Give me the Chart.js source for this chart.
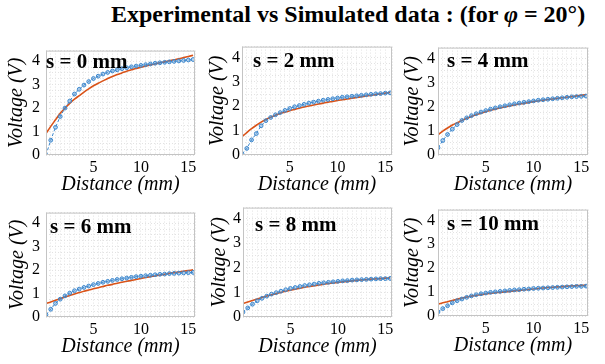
<!DOCTYPE html>
<html>
<head>
<meta charset="utf-8">
<script src="https://cdn.jsdelivr.net/npm/chart.js@4.4.1/dist/chart.umd.min.js"></script>
<style>
  html, body { margin: 0; padding: 0; background: #fff; }
  body { width: 605px; height: 364px; position: relative; overflow: hidden; }
  #title {
    position: absolute; left: 111px; top: 1px; white-space: nowrap;
    font: bold 24px "Liberation Serif", "Times New Roman", serif; color: #000;
  }
  canvas { position: absolute; }
</style>
</head>
<body>
<div id="title">Experimental vs Simulated data : (for <i>φ</i> = 20°)</div>

<script>
// distance (mm) of each sample
const distance = [0, 0.5, 1, 1.5, 2, 2.5, 3, 3.5, 4, 4.5, 5, 5.5, 6, 6.5, 7, 7.5,
  8, 8.5, 9, 9.5, 10, 10.5, 11, 11.5, 12, 12.5, 13, 13.5, 14, 14.5, 15, 15.5];

// experimental voltage (V), one array per separation s
const expS0 = [0, 0.63, 1.18, 1.64, 2.0, 2.3, 2.6, 2.8, 2.98, 3.13, 3.26, 3.36, 3.45, 3.52, 3.58, 3.63,
  3.68, 3.72, 3.76, 3.79, 3.82, 3.85, 3.88, 3.91, 3.93, 3.95, 3.97, 3.99, 4.01, 4.03, 4.05, 4.07];
const expS2 = [0.05, 0.27, 0.62, 0.88, 1.2, 1.41, 1.54, 1.65, 1.74, 1.83, 1.91, 1.98, 2.03, 2.08, 2.13, 2.17,
  2.21, 2.25, 2.28, 2.31, 2.34, 2.37, 2.39, 2.41, 2.43, 2.45, 2.47, 2.49, 2.51, 2.52, 2.54, 2.55];
const expS4 = [0.3, 0.6, 0.85, 1.07, 1.26, 1.43, 1.54, 1.63, 1.71, 1.78, 1.84, 1.9, 1.95, 2.0, 2.04, 2.08,
  2.12, 2.15, 2.18, 2.21, 2.24, 2.27, 2.29, 2.31, 2.33, 2.35, 2.37, 2.39, 2.41, 2.42, 2.43, 2.44];
const expS6 = [0.1, 0.33, 0.58, 0.76, 0.9, 1.02, 1.12, 1.19, 1.26, 1.32, 1.38, 1.43, 1.48, 1.52, 1.56, 1.6,
  1.63, 1.66, 1.69, 1.72, 1.74, 1.76, 1.78, 1.8, 1.82, 1.83, 1.85, 1.86, 1.87, 1.88, 1.89, 1.9];
const expS8 = [0.2, 0.37, 0.52, 0.66, 0.76, 0.85, 0.93, 0.99, 1.05, 1.11, 1.16, 1.2, 1.24, 1.28, 1.31, 1.34,
  1.37, 1.39, 1.41, 1.43, 1.45, 1.47, 1.48, 1.5, 1.51, 1.52, 1.53, 1.54, 1.55, 1.56, 1.56, 1.57];
const expS10 = [0.17, 0.31, 0.43, 0.55, 0.64, 0.71, 0.78, 0.84, 0.89, 0.93, 0.96, 0.99, 1.01, 1.03, 1.05, 1.07,
  1.09, 1.1, 1.12, 1.13, 1.15, 1.16, 1.17, 1.18, 1.19, 1.2, 1.21, 1.22, 1.23, 1.24, 1.24, 1.25];

// simulated voltage (V)
const simS0 = [0.92, 1.22, 1.5, 1.78, 2.0, 2.2, 2.38, 2.53, 2.68, 2.82, 2.95, 3.06, 3.16, 3.26, 3.35, 3.43,
  3.5, 3.57, 3.63, 3.69, 3.74, 3.79, 3.84, 3.88, 3.93, 3.97, 4.02, 4.06, 4.1, 4.15, 4.2, 4.25];
const simS2 = [0.75, 0.92, 1.08, 1.22, 1.35, 1.46, 1.55, 1.63, 1.7, 1.76, 1.82, 1.87, 1.92, 1.97, 2.01, 2.05,
  2.09, 2.13, 2.17, 2.2, 2.24, 2.27, 2.3, 2.33, 2.36, 2.39, 2.42, 2.45, 2.48, 2.51, 2.54, 2.57];
const simS4 = [0.84, 0.99, 1.12, 1.24, 1.34, 1.43, 1.52, 1.6, 1.67, 1.73, 1.79, 1.85, 1.9, 1.95, 1.99, 2.03,
  2.07, 2.11, 2.14, 2.18, 2.21, 2.24, 2.27, 2.3, 2.32, 2.35, 2.37, 2.4, 2.42, 2.45, 2.47, 2.5];
const simS6 = [0.58, 0.64, 0.71, 0.78, 0.85, 0.92, 0.98, 1.04, 1.1, 1.15, 1.2, 1.25, 1.3, 1.35, 1.39, 1.44,
  1.48, 1.52, 1.56, 1.6, 1.64, 1.68, 1.72, 1.75, 1.79, 1.82, 1.86, 1.89, 1.92, 1.95, 1.98, 2.01];
const simS8 = [0.55, 0.61, 0.67, 0.73, 0.79, 0.85, 0.9, 0.95, 1.0, 1.05, 1.09, 1.13, 1.17, 1.21, 1.24, 1.27,
  1.3, 1.33, 1.36, 1.38, 1.41, 1.43, 1.45, 1.47, 1.49, 1.51, 1.52, 1.54, 1.55, 1.56, 1.58, 1.59];
const simS10 = [0.49, 0.55, 0.6, 0.65, 0.7, 0.75, 0.79, 0.83, 0.86, 0.89, 0.92, 0.95, 0.97, 0.99, 1.01, 1.03,
  1.05, 1.07, 1.09, 1.11, 1.13, 1.15, 1.17, 1.19, 1.2, 1.22, 1.23, 1.25, 1.26, 1.27, 1.28, 1.29];

const panelLabels = ["s = 0 mm", "s = 2 mm", "s = 4 mm", "s = 6 mm", "s = 8 mm", "s = 10 mm"];
const xTickLabels = [5, 10, 15];
const yTickLabels = [0, 1, 2, 3, 4];

const SERIF = '"Liberation Serif", "Times New Roman", serif';
const BLUE = "rgb(60, 135, 205)";
const RED = "rgb(217, 83, 25)";

// frame box [left, top, right, bottom] in page px, label offset, y title padding, y tick padding
const panels = [
  { exp: expS0, sim: simS0, box: [46, 41, 195, 155], lab: [0, 12], tPad: 5, kPad: 6 },
  { exp: expS2, sim: simS2, box: [242, 41, 392, 155], lab: [11, 15], tPad: 10, kPad: 2 },
  { exp: expS4, sim: simS4, box: [438, 41, 588, 155], lab: [9, 14], tPad: 9, kPad: 3 },
  { exp: expS6, sim: simS6, box: [46, 203, 195, 317], lab: [4, 15], tPad: 6, kPad: 6 },
  { exp: expS8, sim: simS8, box: [243, 202, 392, 317], lab: [12, 18], tPad: 11, kPad: 2 },
  { exp: expS10, sim: simS10, box: [438, 203, 588, 316], lab: [9, 15], tPad: 9, kPad: 3 },
];

const Y_W = 46, X_H = 45, PAD_T = 6, PAD_R = 10;

// frame around the plot + the "s = .. mm" label
const framePlugin = {
  id: "frame",
  afterDraw(chart, args, opts) {
    const { ctx, chartArea: a } = chart;
    ctx.save();
    ctx.strokeStyle = "#c4c4c4";
    ctx.lineWidth = 1;
    ctx.strokeRect(a.left + 0.5, a.top + 0.5, a.right - a.left - 1, a.bottom - a.top - 1);
    ctx.fillStyle = "#000";
    ctx.font = "bold 21px " + SERIF;
    ctx.textBaseline = "middle";
    ctx.fillText(opts.text, a.left + opts.dx, a.top + opts.dy);
    ctx.restore();
  },
};

panels.forEach((p, i) => {
  const [l, t, r, b] = p.box;
  const canvas = document.createElement("canvas");
  const w = r - l + Y_W + PAD_R;
  const h = b - t + PAD_T + X_H;
  canvas.width = w;
  canvas.height = h;
  canvas.style.left = l - Y_W + "px";
  canvas.style.top = t - PAD_T + "px";
  canvas.style.width = w + "px";
  canvas.style.height = h + "px";
  document.body.appendChild(canvas);

  const toPts = (arr) => arr.map((v, k) => ({ x: distance[k], y: v }));

  new Chart(canvas.getContext("2d"), {
    type: "scatter",
    data: {
      datasets: [
        {
          label: "Simulated",
          data: toPts(p.sim),
          showLine: true,
          borderColor: RED,
          borderWidth: 1.6,
          pointRadius: 0,
          tension: 0.3,
          order: 2,
        },
        {
          label: "Experimental",
          data: toPts(p.exp),
          showLine: true,
          borderColor: BLUE,
          borderWidth: 1,
          borderDash: [3, 2],
          pointRadius: 1.9,
          pointBorderWidth: 1,
          pointBorderColor: BLUE,
          pointBackgroundColor: "rgba(60, 135, 205, 0.35)",
          order: 1,
        },
      ],
    },
    options: {
      responsive: false,
      animation: false,
      devicePixelRatio: 1,
      layout: { padding: { top: PAD_T, right: PAD_R, left: 0, bottom: 0 } },
      scales: {
        x: {
          type: "linear",
          min: 0,
          max: 15.7,
          afterFit: (s) => { s.height = X_H; },
          border: { display: false, dash: [1, 2] },
          grid: { color: "#e2e2e2", lineWidth: 1, drawTicks: false },
          ticks: {
            stepSize: 0.5,
            autoSkip: false,
            maxRotation: 0,
            padding: 3,
            color: "#000",
            font: { family: SERIF, size: 16 },
            callback: (v) => (xTickLabels.includes(v) ? String(v) : ""),
          },
          title: {
            display: true,
            text: "Distance (mm)",
            color: "#000",
            font: { family: SERIF, size: 20, style: "italic" },
            padding: { top: 0, bottom: 3 },
          },
        },
        y: {
          type: "linear",
          min: 0,
          max: 4.45,
          afterFit: (s) => { s.width = Y_W; },
          border: { display: false, dash: [1, 2] },
          grid: { color: "#e2e2e2", lineWidth: 1, drawTicks: false },
          ticks: {
            stepSize: 0.25,
            autoSkip: false,
            padding: p.kPad,
            color: "#000",
            font: { family: SERIF, size: 16 },
            callback: (v) => (yTickLabels.includes(v) ? String(v) : ""),
          },
          title: {
            display: true,
            text: "Voltage (V)",
            color: "#000",
            font: { family: SERIF, size: 20, style: "italic" },
            padding: { top: p.tPad, bottom: 0 },
          },
        },
      },
      plugins: {
        legend: { display: false },
        tooltip: { enabled: false },
        frame: { text: panelLabels[i], dx: p.lab[0], dy: p.lab[1] },
      },
    },
    plugins: [framePlugin],
  });
});
</script>
</body>
</html>
